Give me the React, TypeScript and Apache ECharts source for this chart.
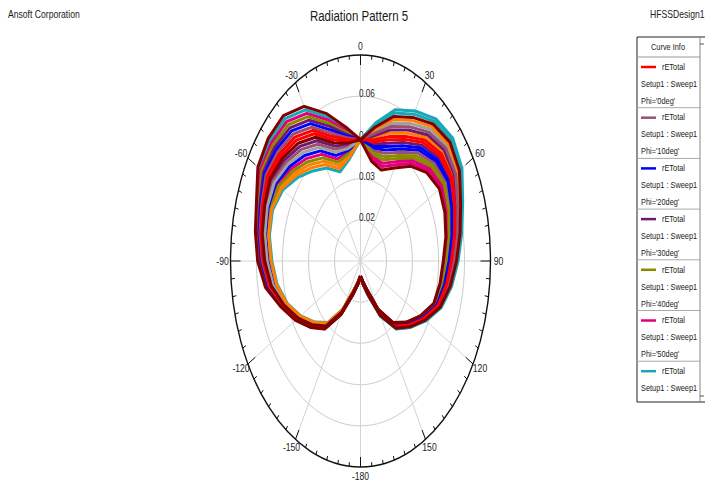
import { useEffect, useRef } from "react";
import * as echarts from "echarts";

// Theta sampling of every trace (degrees)
const THETA_DEG = [
  -180, -170, -160, -150, -140, -130, -120, -110, -100, -90, -80, -70, -60, -50, -40, -30, -20, -10,
  0, 10, 20, 30, 40, 50, 60, 70, 80, 90, 100, 110, 120, 130, 140, 150, 160, 170, 180,
];

// rETotal values, stored in units of 1e-4 V/m
const UNIT = 1e-4;
const PHI_0 = [116,140,177,259,344,391,439,488,538,566,586,600,617,607,590,555,496,466,459,465,495,532,578,607,608,581,557,533,514,489,439,389,342,262,178,140,116];
const PHI_10 = [116,141,178,260,345,392,441,490,541,570,590,605,625,618,603,567,507,472,459,486,530,568,611,636,630,597,571,546,524,496,445,394,347,267,181,141,116];
const PHI_20 = [116,141,179,261,347,394,443,492,544,574,594,610,633,629,616,580,518,478,459,443,461,497,545,578,586,565,543,521,504,483,434,385,338,258,175,138,116];
const PHI_30 = [116,142,180,263,348,395,444,493,548,578,598,615,641,640,629,593,530,483,459,479,518,556,600,626,623,592,566,542,521,494,443,392,345,265,180,141,116];
const PHI_40 = [116,142,181,264,350,397,446,495,551,582,602,619,650,651,642,606,541,489,459,422,426,461,511,549,564,549,529,508,494,476,428,380,333,253,171,136,116];
const PHI_50 = [116,143,182,265,351,398,448,497,554,586,606,624,658,662,655,618,552,495,459,408,403,438,489,530,549,538,520,499,488,471,425,377,330,250,169,135,116];
const PHI_60 = [116,143,183,266,353,400,449,499,558,590,610,629,666,673,668,631,563,501,459,514,576,615,656,674,660,619,589,563,538,505,452,400,353,273,186,143,116];
const PHI_70 = [116,144,184,267,354,401,451,501,561,594,614,634,674,684,681,644,574,507,459,394,380,414,467,511,534,527,511,491,481,467,421,374,327,247,167,134,116];
const PHI_80 = [116,135,168,248,329,376,423,469,504,525,545,552,535,498,460,427,385,407,459,500,553,592,634,655,645,608,580,554,531,500,449,397,350,270,184,142,116];
const PHI_90 = [116,137,173,254,336,383,431,478,521,545,565,576,576,553,525,491,441,436,459,493,541,580,623,646,637,602,576,550,528,498,447,395,348,268,183,142,116];
const PHI_100 = [116,140,176,258,342,389,438,486,534,562,582,595,609,596,577,542,485,460,459,458,484,521,567,597,601,576,553,529,511,487,437,388,341,261,177,139,116];
const PHI_110 = [116,138,174,255,338,385,433,480,524,549,569,581,584,564,538,503,452,442,459,429,438,473,523,559,571,554,534,512,498,478,430,382,335,255,173,137,116];
const PHI_120 = [116,137,172,253,335,382,429,476,518,541,561,571,568,542,512,478,430,430,459,436,449,485,534,569,578,559,539,516,501,480,432,383,336,256,174,137,116];
const PHI_130 = [116,138,175,256,339,386,434,482,528,553,573,586,592,575,551,516,463,448,459,450,472,509,556,588,593,570,548,525,508,485,436,386,339,259,176,138,116];
const PHI_140 = [116,136,170,250,332,379,426,473,511,533,553,562,552,520,486,452,407,419,459,415,415,450,500,540,556,543,525,504,491,474,427,379,332,252,170,136,116];
const PHI_150 = [116,136,171,251,333,380,428,475,514,537,557,566,560,531,499,465,418,425,459,401,392,426,478,521,541,532,516,495,484,469,423,376,329,249,168,135,116];
const PHI_160 = [116,134,167,247,327,374,421,467,501,521,541,547,527,487,447,414,374,401,459,521,587,627,667,684,667,624,594,567,541,507,454,401,354,274,187,144,116];
const PHI_170 = [116,139,175,257,341,388,436,484,531,558,578,590,601,586,564,529,474,454,459,507,564,603,645,665,652,613,585,559,534,502,450,398,351,271,185,143,116];
const PHI_180 = [116,135,169,249,330,377,424,471,508,529,549,557,543,509,473,440,396,413,459,472,507,544,589,617,615,586,562,537,518,491,441,391,344,264,179,140,116];

const CURVES = [
  PHI_0, PHI_10, PHI_20, PHI_30, PHI_40, PHI_50, PHI_60, PHI_70, PHI_80, PHI_90,
  PHI_100, PHI_110, PHI_120, PHI_130, PHI_140, PHI_150, PHI_160, PHI_170, PHI_180,
];
const PHI_VALUES = [0, 10, 20, 30, 40, 50, 60, 70, 80, 90, 100, 110, 120, 130, 140, 150, 160, 170, 180];
// order in which the traces are painted (last one on top)
const DRAW_ORDER = [18, 16, 15, 14, 13, 12, 11, 10, 9, 8, 6, 5, 4, 3, 2, 1, 0, 17, 7];

const TRACE_PALETTE = [
  "#ff0000", "#9b4f73", "#0000ff", "#6e1870", "#8a8a00",
  "#e0007a", "#17a8b8", "#800000", "#ff8000", "#a0a0a0",
];

// Radial axis
const RADIAL_MIN = 0.0067;
const RADIAL_MAX = 0.0733;
const RING_VALUES = [0.02, 0.0333, 0.0467, 0.06];
// Angular axis
const SPOKE_ANGLES = [0, 30, 60, 90, 120, 150, 180, 210, 240, 270, 300, 330];
const ANGLE_LABELS = [0, 30, 60, 90, 120, 150, -180, -150, -120, -90, -60, -30];
const MINOR_TICK_STEP = 5;

const FONT = "'Liberation Sans', Arial, sans-serif";
const NARROW = 0.82;

const rad = (d: number) => (d * Math.PI) / 180;

function txt(text: string, x: number, y: number, size: number, align: string, z = 11) {
  return {
    type: "text",
    x,
    y,
    scaleX: NARROW,
    z,
    style: {
      text,
      x: 0,
      y: 0,
      textAlign: align,
      textVerticalAlign: "middle",
      align,
      verticalAlign: "middle",
      font: `${size}px ${FONT}`,
      fill: "#1a1a1a",
    },
  };
}

export default function App() {
  const ref = useRef<HTMLDivElement>(null);

  useEffect(() => {
    if (!ref.current) return;
    const chart = echarts.init(ref.current, undefined, { renderer: "svg" });
    const SPAN = RADIAL_MAX - RADIAL_MIN;

    const tickAngles: number[] = [];
    for (let a = -180; a < 180; a += MINOR_TICK_STEP) tickAngles.push(a);

    const curveSeries = DRAW_ORDER.map((k) => {
      const vals = CURVES[k];
      const color = TRACE_PALETTE[k % TRACE_PALETTE.length];
      return {
        type: "line",
        name: `Phi='${PHI_VALUES[k]}deg'`,
        data: THETA_DEG.map((t, j) => {
          const d = vals[j] * UNIT - RADIAL_MIN;
          return [d * Math.sin(rad(t)), d * Math.cos(rad(t))];
        }),
        symbol: "none",
        showSymbol: false,
        silent: true,
        clip: false,
        z: 3,
        lineStyle: { width: 3, color, join: "round" },
        itemStyle: { color },
      };
    });

    const ringSeries = {
      type: "custom",
      coordinateSystem: "cartesian2d",
      silent: true,
      clip: false,
      z: 1,
      data: RING_VALUES.map((v) => [v, 0]),
      renderItem: (_p: any, api: any) => {
        const v = api.value(0);
        const c = api.coord([0, 0]);
        const s = api.size([v - RADIAL_MIN, v - RADIAL_MIN]);
        return {
          type: "ellipse",
          shape: { cx: c[0], cy: c[1], rx: s[0], ry: s[1] },
          style: { fill: "none", stroke: "#cccccc", lineWidth: 1 },
        };
      },
    };

    const spokeSeries = {
      type: "custom",
      coordinateSystem: "cartesian2d",
      silent: true,
      clip: false,
      z: 1,
      data: SPOKE_ANGLES.map((a) => [a, 0]),
      renderItem: (_p: any, api: any) => {
        const a = rad(api.value(0));
        const c = api.coord([0, 0]);
        const e = api.coord([SPAN * Math.sin(a), SPAN * Math.cos(a)]);
        return {
          type: "line",
          shape: { x1: c[0], y1: c[1], x2: e[0], y2: e[1] },
          style: { stroke: "#d4d4d4", lineWidth: 1 },
        };
      },
    };

    const ringLabelSeries = {
      type: "custom",
      coordinateSystem: "cartesian2d",
      silent: true,
      clip: false,
      z: 2,
      data: RING_VALUES.map((v) => [v, 0]),
      renderItem: (_p: any, api: any) => {
        const v = api.value(0);
        const p = api.coord([0, v - RADIAL_MIN]);
        return txt(v.toFixed(2), p[0] - 1.5, p[1] - 2, 10, "left", 2);
      },
    };

    const outerSeries = {
      type: "custom",
      coordinateSystem: "cartesian2d",
      silent: true,
      clip: false,
      z: 4,
      data: [[RADIAL_MAX, 0]],
      renderItem: (_p: any, api: any) => {
        const c = api.coord([0, 0]);
        const s = api.size([SPAN, SPAN]);
        return {
          type: "ellipse",
          shape: { cx: c[0], cy: c[1], rx: s[0], ry: s[1] },
          style: { fill: "none", stroke: "#111", lineWidth: 1.4 },
        };
      },
    };

    const tickSeries = {
      type: "custom",
      coordinateSystem: "cartesian2d",
      silent: true,
      clip: false,
      z: 4,
      data: tickAngles.map((a) => [a, 0]),
      renderItem: (_p: any, api: any) => {
        const deg = api.value(0);
        const a = rad(deg);
        const c = api.coord([0, 0]);
        const e = api.coord([SPAN * Math.sin(a), SPAN * Math.cos(a)]);
        const dx = c[0] - e[0];
        const dy = c[1] - e[1];
        const len = Math.sqrt(dx * dx + dy * dy);
        const tl = deg % 30 === 0 ? 10 : 4;
        return {
          type: "line",
          shape: { x1: e[0], y1: e[1], x2: e[0] + (dx / len) * tl, y2: e[1] + (dy / len) * tl },
          style: { stroke: "#111", lineWidth: 1 },
        };
      },
    };

    const angleLabelSeries = {
      type: "custom",
      coordinateSystem: "cartesian2d",
      silent: true,
      clip: false,
      z: 4,
      data: ANGLE_LABELS.map((a) => [a, 0]),
      renderItem: (_p: any, api: any) => {
        const deg = api.value(0);
        const a = rad(deg);
        const c = api.coord([0, 0]);
        const s = api.size([SPAN, SPAN]);
        return txt(
          String(deg),
          c[0] + (s[0] + 8) * Math.sin(a),
          c[1] - (s[1] + 9) * Math.cos(a),
          10.5,
          "center",
          4
        );
      },
    };

    // Legend panel ("Curve Info")
    const LX = 637;
    const LY = 37;
    const LBOTTOM = 402;
    const HEAD = 20;
    const ROW = 50.7;
    const legendEls: any[] = [
      {
        type: "rect",
        shape: { x: LX, y: LY, width: 90, height: LBOTTOM - LY },
        style: { fill: "#fff", stroke: "#222", lineWidth: 1 },
        z: 10,
      },
      {
        type: "line",
        shape: { x1: LX, y1: LY + HEAD, x2: 700, y2: LY + HEAD },
        style: { stroke: "#999", lineWidth: 1 },
        z: 11,
      },
      {
        type: "line",
        shape: { x1: 700, y1: LY, x2: 700, y2: LBOTTOM },
        style: { stroke: "#888", lineWidth: 1 },
        z: 11,
      },
      {
        type: "line",
        shape: { x1: 700, y1: 44, x2: 704, y2: 44 },
        style: { stroke: "#555", lineWidth: 1 },
        z: 11,
      },
      {
        type: "line",
        shape: { x1: 700, y1: 396, x2: 704, y2: 396 },
        style: { stroke: "#555", lineWidth: 1 },
        z: 11,
      },
      txt("Curve Info", 668, LY + 10, 9, "center"),
    ];
    for (let i = 0; i < 7; i++) {
      const top = LY + HEAD + i * ROW;
      const color = TRACE_PALETTE[i % TRACE_PALETTE.length];
      legendEls.push({
        type: "line",
        z: 11,
        shape: { x1: 641, y1: top + 10, x2: 656, y2: top + 10 },
        style: { stroke: color, lineWidth: 2.5 },
      });
      const rows: [string, number, number][] = [
        ["rETotal", 662, top + 10],
        ["Setup1 : Sweep1", 641, top + 27],
        [`Phi='${PHI_VALUES[i]}deg'`, 641, top + 44],
      ];
      rows.forEach(([t, x, y]) => {
        if (y > LBOTTOM - 4) return;
        legendEls.push(txt(t, x, y, 9, "left"));
      });
      if (top + ROW < LBOTTOM - 10) {
        legendEls.push({
          type: "line",
          z: 11,
          shape: { x1: LX, y1: top + ROW, x2: 700, y2: top + ROW },
          style: { stroke: "#aaa", lineWidth: 1 },
        });
      }
    }

    const headerEls: any[] = [
      txt("Ansoft Corporation", 8, 14, 10.5, "left"),
      txt("Radiation Pattern 5", 359, 16, 14, "center"),
      txt("HFSSDesign1", 650, 14, 10.5, "left"),
    ];

    chart.setOption({
      animation: false,
      backgroundColor: "#ffffff",
      grid: { left: 230.5, top: 55, width: 260, height: 412, containLabel: false },
      xAxis: { type: "value", min: -SPAN, max: SPAN, show: false },
      yAxis: { type: "value", min: -SPAN, max: SPAN, show: false },
      series: [
        ringSeries,
        spokeSeries,
        ringLabelSeries,
        ...curveSeries,
        outerSeries,
        tickSeries,
        angleLabelSeries,
      ],
      graphic: { elements: [...headerEls, ...legendEls] },
    });

    return () => chart.dispose();
  }, []);

  return (
    <div
      ref={ref}
      style={{ position: "fixed", left: 0, top: 0, width: 705, height: 482, background: "#fff" }}
    />
  );
}
